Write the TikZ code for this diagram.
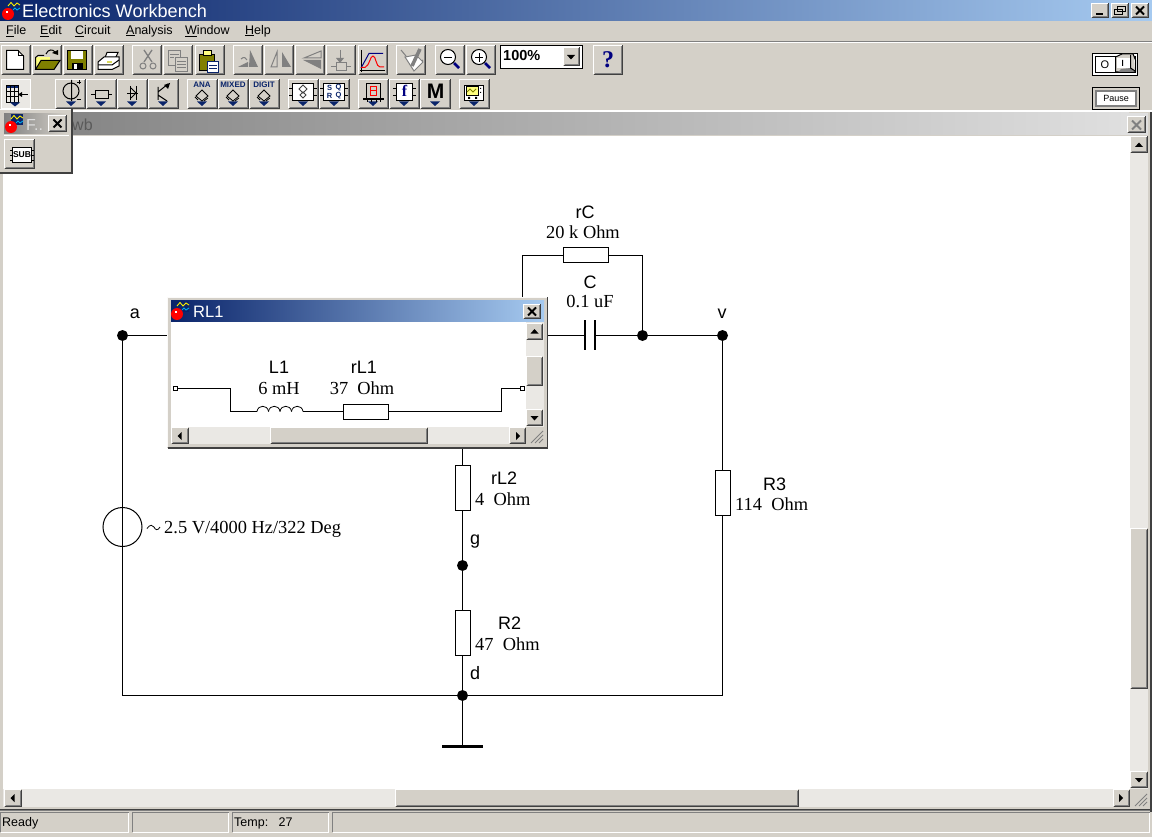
\documentclass[tikz,border=0pt]{standalone}
\usepackage{fontspec}
\setmainfont{Liberation Sans}
\newfontfamily\serf{Liberation Serif}
\definecolor{bgc}{HTML}{D4D0C8}
\definecolor{dith}{HTML}{EAE8E4}
\definecolor{navyc}{HTML}{0A246A}
\definecolor{skyc}{HTML}{A6CAF0}
\definecolor{dk}{HTML}{404040}
\definecolor{md}{HTML}{808080}
\definecolor{icn}{HTML}{000080}
\definecolor{olv}{HTML}{808000}
\definecolor{ylw}{HTML}{FFFF80}
\definecolor{toolblue}{HTML}{0A246A}
% raised button x y w h
\newcommand{\rbtn}[4]{%
  \fill[bgc] (#1,#2) rectangle ++(#3,#4);
  \draw[white,line width=1pt] (#1+.5,#2+#4-1) -- (#1+.5,#2+.5) -- (#1+#3-1,#2+.5);
  \draw[dk,line width=1pt] (#1+.5,#2+#4-.5) -- (#1+#3-.5,#2+#4-.5) -- (#1+#3-.5,#2+.5);
  \draw[md,line width=1pt] (#1+1.5,#2+#4-1.5) -- (#1+#3-1.5,#2+#4-1.5) -- (#1+#3-1.5,#2+1.5);
}
\newcommand{\tri}[1]{\fill[toolblue] (#1-5,101.5) -- (#1+5,101.5) -- (#1,106) -- cycle;}
\newcommand{\xmark}[2]{\draw[black,line width=2pt] (#1-4,#2-4) -- (#1+4,#2+4) (#1+4,#2-4) -- (#1-4,#2+4);}
\newcommand{\apicon}[2]{%
  \fill[navyc] (#1+6,#2) rectangle (#1+18,#2+11);
  \draw[yellow,line width=.9pt] (#1+6,#2+5) -- (#1+9,#2+1.5) -- (#1+12,#2+5) -- (#1+15,#2+2) -- (#1+18,#2+4);
  \draw[cyan,line width=.9pt] (#1+11,#2+9) -- (#1+13,#2+7) -- (#1+15,#2+9) -- (#1+18,#2+7);
  \fill[red] (#1+6,#2+13) circle[radius=6pt];
  \fill[white] (#1+4,#2+10) rectangle ++(2,2);
}
\newcommand{\upt}[2]{\fill[black] (#1-4,#2+2.5) -- (#1+4,#2+2.5) -- (#1,#2-2) -- cycle;}
\newcommand{\dnt}[2]{\fill[black] (#1-4,#2-2) -- (#1+4,#2-2) -- (#1,#2+2.5) -- cycle;}
\newcommand{\lft}[2]{\fill[black] (#1+2,#2-4) -- (#1+2,#2+4) -- (#1-2,#2) -- cycle;}
\newcommand{\rgt}[2]{\fill[black] (#1-2,#2-4) -- (#1-2,#2+4) -- (#1+2,#2) -- cycle;}
\newcommand{\grip}[2]{\draw[md,line width=1pt] (#1+17,#2+4) -- (#1+5,#2+16) (#1+17,#2+8) -- (#1+9,#2+16) (#1+17,#2+12) -- (#1+13,#2+16);}
\tikzset{
  x=1pt,y=-1pt,
  wire/.style={black,line width=1pt},
  resbox/.style={draw=black,fill=white,line width=1pt,inner sep=0pt,minimum width=#1},
  junc/.style={fill=black},
  sanlab/.style={inner sep=0pt,font=\fontsize{18}{18}\selectfont},
  serlab/.style={inner sep=0pt,font=\serf\fontsize{18.4}{19}\selectfont},
  menu/.style={inner sep=0pt,anchor=west,font=\fontsize{12.5}{13}\selectfont},
  tiny/.style={inner sep=0pt,text=toolblue,font=\bfseries\fontsize{8}{8}\selectfont},
  gicon/.style={draw=md,fill=white,line width=1pt},
  bicon/.style={draw=black,fill=white,line width=1pt},
}
\begin{document}
\begin{tikzpicture}
\useasboundingbox (0,0) rectangle (1152,837);
\clip (0,0) rectangle (1152,837);
\fill[bgc] (0,0) rectangle (1152,837);
% ---------- main title
\shade[left color=navyc,right color=skyc,shading angle=90] (0,0) rectangle (1152,21);
\apicon{2}{1}
\node[inner sep=0pt,anchor=west,text=white,font=\fontsize{18.1}{19}\selectfont] (apptitle) at (22,11) {Electronics Workbench};
\rbtn{1091}{3}{18}{15}\fill[black] (1096,13) rectangle (1103,15);
\rbtn{1111}{3}{18}{15}\draw[black,line width=1pt] (1117.5,6.5) rectangle (1125.5,11.5) (1114.5,9.5) rectangle (1122.5,14.5);
\rbtn{1131}{3}{18}{15}\xmark{1140}{10.5}
% ---------- menu
\node[menu] (mfile) at (6,31) {\underline{F}ile};
\node[menu] (medit) at (40,31) {\underline{E}dit};
\node[menu] (mcirc) at (75,31) {\underline{C}ircuit};
\node[menu] (manal) at (126,31) {\underline{A}nalysis};
\node[menu] (mwind) at (185,31) {\underline{W}indow};
\node[menu] (mhelp) at (245,31) {\underline{H}elp};
\fill[md] (0,41) rectangle (1152,42);
\fill[white] (0,42) rectangle (1152,43);
\fill[white] (0,110.5) rectangle (1152,112);
% ---------- toolbar 1
\foreach \x in {1,32,63,94,132,163,195,233,264,295,326,358,396,435,466,593} {\rbtn{\x}{45}{30}{30}}
% new
\draw[bicon] (6.5,50.5) -- (18,50.5) -- (23.5,56) -- (23.5,69.5) -- (6.5,69.5) -- cycle;
\draw[black,line width=1pt] (18,50.5) -- (18,56) -- (23.5,56);
% open
\fill[ylw] (36,57) rectangle (50,66);
\draw[black,line width=1pt,fill=olv] (35.5,69.5) -- (41,60.5) -- (60,60.5) -- (54,69.5) -- cycle;
\draw[black,line width=1pt] (35.5,69.5) -- (35.5,57.5) -- (38,55.5) -- (44,55.5);
\draw[black,line width=1pt] (46,54) .. controls (48,49) and (53,49) .. (55,52);
\fill[black] (52,53) -- (58,50) -- (58,55) -- cycle;
% save
\fill[olv] (67,50) rectangle (87,70);\draw[black,line width=1pt] (67.5,50.5) rectangle (86.5,69.5);
\fill[white] (71,51) rectangle (83,59);
\fill[black] (72,63) rectangle (83,70);\fill[white] (74,64) rectangle (77,69);
% print
\draw[bicon] (104.5,59) -- (107,52.5) -- (118,52.5) -- (115,59);
\draw[bicon] (98,62) -- (104,57) -- (119,57) -- (119,66) -- (112,69.5) -- (98,69.5) -- cycle;
\fill[ylw!70!olv] (107,61) rectangle (112,63);
\draw[black,line width=1pt] (98,65) -- (112,65) -- (119,60);
% cut
\draw[md,line width=1.3pt] (144,50) -- (152,62) (152,50) -- (144,62);
\draw[md,line width=1pt] (143,66) circle[radius=3pt] (153,66) circle[radius=3pt];
% copy
\draw[gicon,fill=bgc] (168.5,50.5) rectangle (180.5,65.5);
\draw[gicon,fill=bgc] (175.5,57.5) rectangle (187.5,71.5);
\draw[md,line width=.8pt] (170,54)--(179,54)(170,57)--(174,57)(177,61)--(186,61)(177,64)--(186,64)(177,67)--(186,67);
% paste
\draw[black,fill=olv,line width=1pt] (199.5,54.5) rectangle (214.5,70.5);
\draw[black,fill=ylw,line width=1pt] (203.5,50.5) rectangle (211.5,55.5);
\draw[navyc,fill=white,line width=1pt] (207.5,61.5) rectangle (218.5,72.5);
\draw[navyc,line width=.8pt] (209,65)--(217,65)(209,68)--(217,68);
% rotate
\fill[md] (250,50) -- (258,67) -- (249,67) -- cycle;
\fill[md] (238,67) -- (248,62) -- (248,67) -- cycle;
\draw[md,line width=1pt] (241,59) .. controls (244,56) and (246,58) .. (247,60);
% flip h
\fill[md] (282,52) -- (282,67) -- (291,67) -- cycle;
\draw[md,line width=1pt] (277,52) -- (277,67) -- (271,67) -- cycle;
% flip v
\draw[md,line width=1pt] (321,51) -- (321,58) -- (304,58) -- cycle;
\fill[md] (321,60) -- (321,69) -- (303,60) -- cycle;
% component props
\draw[md,line width=1pt] (340,50) -- (340,60);
\fill[md] (336,58) -- (344,58) -- (340,63) -- cycle;
\draw[md,line width=1pt] (331,67)--(336,67)(346,67)--(351,67);
\draw[md,fill=bgc,line width=1pt] (336,63) rectangle (346,71);
% graph
\draw[black,line width=1pt] (361.5,50) -- (361.5,72);
\draw[black,line width=1pt] (360,70.5) -- (385,70.5);
\draw[icn,line width=1pt] (361,68) -- (369,53.5) -- (383,53.5);
\draw[red,line width=1pt] (361,67.5) -- (365,67.5) .. controls (370,65) and (370,56) .. (373,56) .. controls (376,56) and (376,67) .. (380,67) -- (384,67);
% check tool
\draw[md,line width=1pt] (401,50) -- (415,67) -- (423,60);
\draw[md,fill=white,line width=1pt] (405,57) -- (416,55) -- (423,62) -- (414,71) -- cycle;
\draw[md,line width=3.5pt] (412,66) -- (420,49);
% zoom
\draw[black,fill=white,line width=1pt] (448,57) circle[radius=7.5pt];
\draw[black,line width=1pt] (444,57.5) -- (452,57.5);
\draw[icn,line width=2.5pt] (454,63) -- (459,68);
\draw[black,fill=white,line width=1pt] (479,57) circle[radius=7.5pt];
\draw[black,line width=1pt] (475,57.5) -- (483,57.5) (479.5,53) -- (479.5,62);
\draw[icn,line width=2.5pt] (485,63) -- (490,68);
% combo
\draw[black,fill=white,line width=1pt] (500.5,45.5) rectangle (582.5,68.5);
\rbtn{563}{47}{17}{19}
\dnt{571}{57}
\node[inner sep=0pt,anchor=west,font=\bfseries\fontsize{14.5}{15}\selectfont] (zoomval) at (503,56) {100\%};
\node[inner sep=0pt,text=icn,font=\serf\bfseries\fontsize{24}{24}\selectfont] (helpq) at (608,60) {?};
% ---------- toolbar 2
\fill[dith] (1,79) rectangle (30,109);
\draw[white,line width=1pt] (1.5,79.5) rectangle (30.5,108.5);
\fill[navyc] (7,85) rectangle (19,88);
\draw[black,line width=1pt] (6.5,85.5) rectangle (18.5,102.5);
\draw[black,line width=1pt] (6.5,91.5)--(18.5,91.5) (6.5,96.5)--(18.5,96.5) (10.5,85.5)--(10.5,102.5) (14.5,85.5)--(14.5,102.5);
\draw[black,line width=1pt] (19,94.5) -- (28,94.5);
\fill[black] (18,94.5) -- (22,92) -- (22,97) -- cycle;
\fill[toolblue] (10,102.5) -- (20,102.5) -- (15,106.5) -- cycle;
\foreach \x in {55,86,117,148,187,218,249,288,319,358,389,420,459} {\rbtn{\x}{79}{31}{30}}
\foreach \c in {71,101,132,163,202,233,264,303,334,373,404,435,474} {\tri{\c}}
% source
\draw[black,line width=1pt] (71,91) circle[radius=8pt] (71.5,80) -- (71.5,101);
\draw[black,line width=.8pt] (77,82.5)--(81,82.5)(79,80.5)--(79,84.5)(77,99.5)--(81,99.5);
% resistor
\draw[black,line width=1pt] (91,94.5) -- (112,94.5);
\draw[bicon,fill=bgc] (95.5,90.5) rectangle (108.5,98.5);
% diode
\draw[black,line width=1pt] (127,93.5)--(138,93.5) (130.5,86)--(130.5,100) (136.5,86)--(136.5,100);
\draw[black,line width=1pt] (131,88)--(136,93)--(131,98);
% transistor
\draw[black,line width=1pt] (158,87)--(158,100) (158,92)--(168,84) (158,95)--(167,101);
\fill[black] (164,85) -- (170,83) -- (168,89) -- cycle;
% digital families
\node[tiny] (tana) at (202,84.5) {ANA};
\node[tiny] (tmix) at (233,84.5) {MIXED};
\node[tiny] (tdig) at (264,84.5) {DIGIT};
\foreach \c in {202,233,264} {
  \draw[black,line width=.8pt] (\c-6,96) -- (\c,90) -- (\c+6,96) -- (\c,101) -- cycle;
  \draw[black,line width=.8pt] (\c-7,97)--(\c-4,100) (\c+2,101)--(\c+6,98);
}
% logic boxes
\foreach \c in {303,334} {
  \draw[black,fill=white,line width=1pt] (\c-10.5,83.5) rectangle (\c+10.5,100.5);
  \draw[black,line width=1pt] (\c-14,88.5)--(\c-11,88.5)(\c-14,95.5)--(\c-11,95.5)(\c+11,88.5)--(\c+14,88.5)(\c+11,95.5)--(\c+14,95.5);
}
\draw[dk,line width=.8pt] (303,85)--(307,89)--(303,93)--(299,89)--cycle (303,92)--(306,95)--(303,98)--(300,95)--cycle;
\node[inner sep=0pt,text=toolblue,font=\bfseries\fontsize{7.5}{8}\selectfont] (ts) at (329.5,88) {S};
\node[inner sep=0pt,text=toolblue,font=\bfseries\fontsize{7.5}{8}\selectfont] (tq) at (338.5,88) {Q};
\node[inner sep=0pt,text=toolblue,font=\bfseries\fontsize{7.5}{8}\selectfont] (tr) at (329.5,96) {R};
\node[inner sep=0pt,text=toolblue,font=\bfseries\fontsize{7.5}{8}\selectfont] (tqb) at (338.5,96) {Q};
% seven segment
\draw[black,fill=bgc,line width=1pt] (366.5,83.5) rectangle (380.5,98.5);
\draw[red,line width=1pt] (370.5,86.5) rectangle (376.5,95.5) (370.5,91)--(376.5,91);
\draw[black,line width=2pt] (363,99.5)--(384,99.5);
\draw[black,line width=1pt] (367,100)--(367,102)(371,100)--(371,102)(376,100)--(376,102)(380,100)--(380,102);
% f
\draw[black,fill=white,line width=1pt] (396.5,83.5) rectangle (412.5,100.5);
\draw[black,line width=1pt] (393,88.5)--(396,88.5)(393,95.5)--(396,95.5)(413,88.5)--(416,88.5)(413,95.5)--(416,95.5);
\node[inner sep=0pt,text=icn,font=\serf\bfseries\fontsize{16}{16}\selectfont] (tf) at (404.5,91) {f};
% M
\node[inner sep=0pt,font=\bfseries\fontsize{21}{21}\selectfont] (tm) at (435.5,91) {M};
% instrument
\draw[black,fill=white,line width=1pt] (464.5,85.5) rectangle (483.5,100.5);
\fill[ylw] (466,87) rectangle (478,95);
\draw[black,line width=.8pt] (466.5,86.5) rectangle (478.5,95.5);
\draw[olv,line width=.8pt] (467,92)--(470,89)--(473,92)--(476,89);
\fill[black] (468,97) rectangle ++(2,2) (475,97) rectangle ++(2,2) (480,88) rectangle ++(1,1) (480,92) rectangle ++(1,1);
% right switches
\draw[black,fill=white,line width=1pt] (1092.5,53.5) rectangle (1137.5,75.5);
\draw[black,line width=1pt] (1095.5,56.5) rectangle (1135.5,72.5);
\node[inner sep=0pt,font=\fontsize{11}{11}\selectfont] (sw0) at (1105,65) {O};
\fill[bgc] (1116,57) -- (1122,54) -- (1134,54) -- (1135,72) -- (1116,72) -- cycle;
\draw[black,line width=1pt] (1115.5,57) -- (1122,54) -- (1133,54) -- (1135.5,60) -- (1135.5,72) -- (1115.5,72) -- cycle;
\fill[white] (1117,58) rectangle (1130,68);
\fill[md] (1118,72) -- (1121,69) -- (1131,68) -- (1134,72) -- cycle;
\draw[black,line width=1pt] (1122.5,60) -- (1122.5,66) (1130.5,55) -- (1130.5,68) -- (1135,71);
\draw[black,fill=bgc,line width=1pt] (1092.5,87.5) rectangle (1139.5,109.5);
\fill[md] (1095,90) rectangle (1137,107);
\fill[white] (1097,92) rectangle (1135,105);
\node[inner sep=0pt,font=\fontsize{9}{10}\selectfont] (pausetxt) at (1116,98) {Pause};
% ---------- child window
\shade[left color=md,right color=white!75!md,shading angle=90] (0,113) rectangle (1129,135);
\fill[white!75!md] (1129,113) rectangle (1148,135);
\rbtn{1127}{116}{19}{17}
\draw[md,line width=2pt] (1132,120.5) -- (1141,129.5) (1141,120.5) -- (1132,129.5);
\fill[white] (3,136) rectangle (1130,789);
\fill[dk] (1150,112) rectangle (1151.5,812);
% ---------- circuit
\coordinate (a) at (122.5,335.5);
\coordinate (v) at (722.5,335.5);
\coordinate (jc) at (642.5,335.5);
\coordinate (g) at (462.5,565.5);
\coordinate (d) at (462.5,695.5);
\coordinate (blcorner) at (122.5,695.5);
\coordinate (brcorner) at (722.5,695.5);
\coordinate (gnd) at (462.5,746.5);
\coordinate (capl) at (585,335.5);
\coordinate (capr) at (595,335.5);
\coordinate (rca) at (522.5,335.5);
\coordinate (rcb) at (522.5,255.5);
\coordinate (rcc) at (642.5,255.5);
\coordinate (tjn) at (462.5,335.5);
\node[resbox=45pt,minimum height=15pt] (rC) at (585.5,255.5) {};
\node[resbox=15pt,minimum height=45pt] (R3) at (722.5,492.5) {};
\node[resbox=15pt,minimum height=45pt] (rL2) at (462.5,487.5) {};
\node[resbox=15pt,minimum height=45pt] (R2) at (462.5,632.5) {};
\node[circle,draw=black,line width=1pt,inner sep=0pt,minimum size=39pt] (src) at (122.5,527) {};
\draw[wire] (a) -- (capl) (capr) -- (v);
\draw[wire] (rca) -- (rcb) -- (rC.west) (rC.east) -- (rcc) -- (jc);
\draw[wire] (a) -- (blcorner) -- (brcorner) -- (R3.south);
\draw[wire] (R3.north) -- (v);
\draw[wire] (tjn) -- (rL2.north);
\draw[wire] (rL2.south) -- (g) -- (R2.north);
\draw[wire] (R2.south) -- (d) -- (gnd);
\draw[black,line width=1.5pt] (585,320) -- (585,350) (595,320) -- (595,350);
\draw[black,line width=3pt] (442,746.5) -- (483,746.5);
\foreach \n in {a,v,jc,g,d} {\fill[junc] (\n) circle[radius=5.5pt];}
\node[sanlab] (la) at (135,314) {a};
\node[sanlab] (lv) at (722,314) {v};
\node[sanlab] (lrC) at (585,212) {rC};
\node[serlab] (vrC) at (583,232) {20 k Ohm};
\node[sanlab] (lC) at (590,282) {C};
\node[serlab] (vC) at (590,302) {0.1 uF};
\node[sanlab,anchor=west] (lrL2) at (491,478) {rL2};
\node[serlab,anchor=west] (vrL2) at (475,499) {4\ \ Ohm};
\node[sanlab,anchor=west] (lg) at (470,542) {g};
\node[sanlab,anchor=west] (lR2) at (498,623) {R2};
\node[serlab,anchor=west] (vR2) at (475,644) {47\ \ Ohm};
\node[sanlab,anchor=west] (ld) at (470,673) {d};
\node[sanlab,anchor=west] (lR3) at (763,484) {R3};
\node[serlab,anchor=west] (vR3) at (735,504) {114\ \ Ohm};
\draw[black,line width=.8pt] (147,528.5) .. controls (150,524) and (153,525) .. (154,527) .. controls (155,530) and (158,531) .. (160,527);
\node[serlab,anchor=west] (vsrc) at (164,529) {2.5 V/4000 Hz/322 Deg};
% ---------- main scrollbars
\fill[dith] (1130,136) rectangle (1148,789);
\rbtn{1130}{136}{18}{17}\upt{1139}{144.5}
\rbtn{1130}{771}{18}{17}\dnt{1139}{780}
\rbtn{1130}{528}{18}{161}
\fill[dith] (3,789) rectangle (1130,807);
\rbtn{4}{789}{18}{18}\lft{12.5}{798}
\rbtn{1113}{789}{17}{18}\rgt{1121}{798}
\rbtn{395}{789}{404}{18}
\fill[bgc] (1130,789) rectangle (1149,808);
\grip{1130}{790}
% ---------- status bar
\fill[dk] (0,808.5) rectangle (1150,810);
\fill[md] (0,810) rectangle (1150,811);
\foreach \x/\w in {0/129,132/97,232/97,332/818} {
  \draw[md,line width=1pt] (\x+.5,832) -- (\x+.5,812.5) -- (\x+\w,812.5);
  \draw[white,line width=1pt] (\x+.5,832.5) -- (\x+\w-.5,832.5) -- (\x+\w-.5,812.5);
}
\node[inner sep=0pt,anchor=west,font=\fontsize{12.5}{13}\selectfont] (sready) at (2,823) {Ready};
\node[inner sep=0pt,anchor=west,font=\fontsize{12.5}{13}\selectfont] (stemp) at (234,823) {Temp:\ \ \ 27};
% ---------- floating palette
\node[inner sep=0pt,anchor=west,text=md!70!black,font=\fontsize{16}{16}\selectfont] (chwb) at (72,125) {wb};
\fill[bgc] (0,109) rectangle (72,173);
\draw[white,line width=1pt] (0,109.5) -- (71,109.5);
\draw[dk,line width=1.5pt] (72,109) -- (72,173) -- (0,173);
\shade[left color=md,right color=bgc,shading angle=90] (4,114) rectangle (67,134);
\fill[white] (4,135.5) rectangle (69,136.5);
\apicon{5}{114}
\node[inner sep=0pt,anchor=west,text=white!75!md,font=\fontsize{16}{16}\selectfont] (ptitle) at (26,125) {F..};
\rbtn{48}{115}{19}{17}\xmark{57.5}{123.5}
\rbtn{4}{139}{31}{30}
\draw[black,fill=white,line width=1pt] (12.5,147.5) rectangle (31.5,162.5);
\draw[black,line width=1pt] (10,150.5)--(12,150.5)(10,155.5)--(12,155.5)(10,160.5)--(12,160.5)(32,150.5)--(34,150.5)(32,155.5)--(34,155.5)(32,160.5)--(34,160.5);
\node[inner sep=0pt,font=\bfseries\fontsize{8.5}{9}\selectfont] (psub) at (22,155) {SUB};
% ---------- RL1 window
\fill[bgc] (167,297) rectangle (548,448);
\draw[white!90!bgc,line width=1pt] (167.5,447) -- (167.5,297.5) -- (547,297.5);
\draw[dk,line width=1.5pt] (167.5,448) -- (547.5,448) -- (547.5,297);
\shade[left color=navyc,right color=skyc,shading angle=90] (171,301) rectangle (544,322);
\apicon{171}{301}
\node[inner sep=0pt,anchor=west,text=white,font=\fontsize{16.5}{17}\selectfont] (rltitle) at (193,312) {RL1};
\rbtn{523}{304}{18}{15}\xmark{532}{311.5}
\fill[white] (171,322) rectangle (526,427);
\coordinate (tl) at (175,388.5);
\coordinate (tr1) at (522,388.5);
\coordinate (w1) at (230.5,388.5);
\coordinate (w2) at (230.5,411.5);
\coordinate (coilL) at (257,411.5);
\coordinate (coilR) at (303,411.5);
\coordinate (w3) at (501.5,411.5);
\coordinate (w4) at (501.5,388.5);
\node[resbox=45pt,minimum height=15pt] (rL1) at (365.5,411.5) {};
\node[draw=black,fill=white,line width=.8pt,inner sep=0pt,minimum size=4pt] (tlb) at (tl) {};
\node[draw=black,fill=white,line width=.8pt,inner sep=0pt,minimum size=4pt] (trb) at (tr1) {};
\draw[wire] (tlb) -- (w1) -- (w2) -- (coilL);
\draw[wire] (coilR) -- (rL1.west);
\draw[wire] (rL1.east) -- (w3) -- (w4) -- (trb);
\foreach \k in {257,268.5,280,291.5} {
  \draw[black,line width=.8pt] (\k,411.5) .. controls (\k+1,404.5) and (\k+10.5,404.5) .. (\k+11.5,411.5);
}
\node[sanlab] (lL1) at (279,367) {L1};
\node[serlab] (vL1) at (279,388) {6 mH};
\node[sanlab] (lrL1) at (364,367) {rL1};
\node[serlab] (vrL1) at (362,388) {37\ \ Ohm};
\fill[dith] (526,322) rectangle (544,427);
\rbtn{526}{323}{17}{17}\upt{534.5}{331}
\rbtn{526}{356}{17}{30}
\rbtn{526}{409}{17}{17}\dnt{534.5}{418}
\fill[dith] (171,427) rectangle (526,444);
\rbtn{171}{427}{18}{17}\lft{179.5}{436}
\rbtn{270}{427}{158}{17}
\rbtn{509}{427}{17}{17}\rgt{518}{436}
\grip{526}{427}
\end{tikzpicture}
\end{document}
